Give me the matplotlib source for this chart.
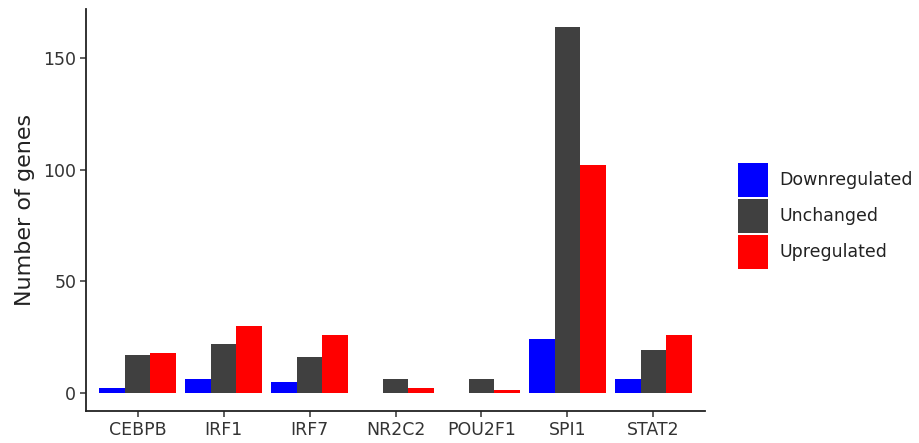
import matplotlib
matplotlib.use("Agg")
import matplotlib.pyplot as plt
import numpy as np

# Transcription factors and target-gene counts per regulation class
factors = ["CEBPB", "IRF1", "IRF7", "NR2C2", "POU2F1", "SPI1", "STAT2"]
downregulated = [2, 6, 5, 0, 0, 24, 6]
unchanged = [17, 22, 16, 6, 6, 164, 19]
upregulated = [18, 30, 26, 2, 1, 102, 26]

series = [
    ("Downregulated", downregulated, "#0000FF"),
    ("Unchanged", unchanged, "#404040"),
    ("Upregulated", upregulated, "#FF0000"),
]

fig = plt.figure(figsize=(9.19, 4.43), dpi=100)
ax = fig.add_axes([86 / 919, 32 / 443, (705 - 86) / 919, (411 - 9) / 443])

x = np.arange(len(factors))
width = 0.3
for i, (name, vals, color) in enumerate(series):
    ax.bar(x + (i - 1) * width, vals, width=width, color=color, label=name,
           linewidth=0)

ax.set_xlim(-0.6, len(factors) - 0.4)
ymax = max(unchanged)
ax.set_ylim(-0.05 * ymax, ymax * 1.05)
ax.set_xticks(x)
ax.set_xticklabels(factors)
ax.set_yticks([0, 50, 100, 150])

for side in ("top", "right"):
    ax.spines[side].set_visible(False)
for side in ("left", "bottom"):
    ax.spines[side].set_linewidth(1.3)
    ax.spines[side].set_color("#222222")

ax.tick_params(axis="both", length=4, width=1.1, color="#333333",
               labelsize=12.5, labelcolor="#333333", pad=3)
ax.set_ylabel("Number of genes", fontsize=16, color="#222222", labelpad=6)

leg = ax.legend(loc="center left", bbox_to_anchor=(738 / 919, (443 - 216) / 443),
                bbox_transform=fig.transFigure, frameon=False,
                fontsize=12.5, handlelength=1.75, handleheight=2.6,
                labelspacing=0.15, handletextpad=0.65, borderpad=0,
                borderaxespad=0)
for t in leg.get_texts():
    t.set_color("#222222")

fig.savefig("out.png", dpi=100)
